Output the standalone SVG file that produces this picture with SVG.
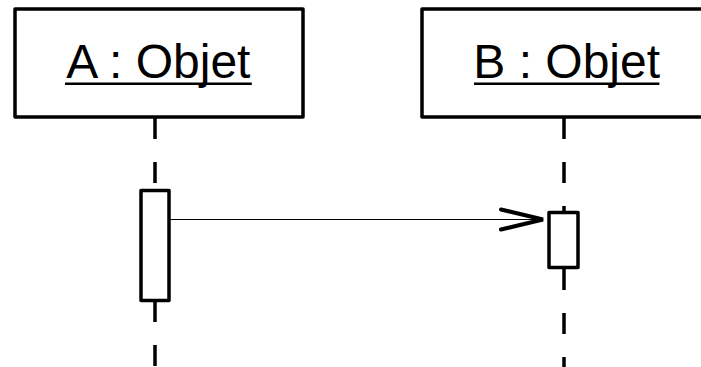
<svg xmlns="http://www.w3.org/2000/svg" width="701" height="367" viewBox="0 0 701 367">
  <style>
    .obj { fill: #fff; stroke: #000; stroke-width: 3.5; stroke-linejoin: round; }
    .label { font-family: "Liberation Sans", Arial, sans-serif; font-size: 48px; fill: #000; text-anchor: middle; }
    .uline { stroke: #000; stroke-width: 2.4; }
    .life { stroke: #000; stroke-width: 3.5; stroke-dasharray: 21 23; fill: none; }
    .act { fill: #fff; stroke: #000; stroke-width: 3.5; stroke-linejoin: round; }
    .msg { stroke: #000; stroke-width: 1; fill: none; }
    .head { stroke: #000; stroke-width: 4; fill: none; stroke-linecap: round; stroke-linejoin: miter; }
  </style>
  <rect width="701" height="367" fill="#fff"/>

  <!-- lifelines -->
  <g id="lifelines">
    <line class="life" x1="155" y1="118" x2="155" y2="190"/>
    <line class="life" x1="155" y1="301" x2="155" y2="367"/>
    <line class="life" x1="564" y1="118" x2="564" y2="212"/>
    <line class="life" x1="564" y1="269" x2="564" y2="367"/>
  </g>

  <g id="objA">
    <rect class="obj" x="15" y="9" width="288" height="108"/>
    <text class="label" x="158.4" y="78">A : Objet</text>
    <line class="uline" x1="65" y1="83.8" x2="251.8" y2="83.8"/>
    <rect class="act" x="141" y="190.5" width="28" height="110"/>
  </g>

  <g id="objB">
    <rect class="obj" x="422" y="9" width="300" height="108"/>
    <text class="label" x="566.7" y="78">B : Objet</text>
    <line class="uline" x1="474" y1="83.8" x2="659.4" y2="83.8"/>
    <rect class="act" x="549" y="212.5" width="29" height="55"/>
  </g>

  <!-- message A -> B -->
  <g id="connectors">
    <line class="msg" x1="170" y1="219.5" x2="543" y2="219.5"/>
    <polyline class="head" points="501,209.5 543,219.5 501,229.5"/>
  </g>
</svg>
